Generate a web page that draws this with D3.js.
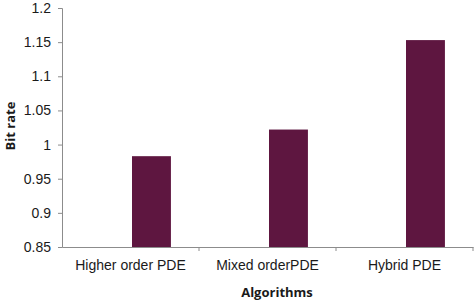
<!DOCTYPE html>
<html>
<head>
<meta charset="utf-8">
<script src="https://cdn.jsdelivr.net/npm/d3@7.9.0/dist/d3.min.js"></script>
<style>
  body { margin: 0; background: #fff; }
  svg { display: block; font-family: "Open Sans", sans-serif; }
</style>
</head>
<body>
<svg id="chart" width="474" height="300"></svg>
<script>
// data
const algorithms = ['Higher order PDE', 'Mixed orderPDE', 'Hybrid PDE'];
const bitRate = [0.983, 1.022, 1.153];
const yTicks = [0.85, 0.9, 0.95, 1, 1.05, 1.1, 1.15, 1.2];
const series = ['blank', 'Bit rate']; // first series is empty, bars sit right of centre

const margin = { top: 8, right: 1, bottom: 53, left: 62 };
const width = 474 - margin.left - margin.right;
const height = 300 - margin.top - margin.bottom;

const svg = d3.select('#chart');
const g = svg.append('g').attr('transform', `translate(${margin.left},${margin.top})`);

let x0 = d3.scaleBand().domain(algorithms).range([0, width]).padding(0);
let x1 = d3.scaleBand().domain(series).range([0, x0.bandwidth()])
  .paddingInner(0).paddingOuter(0.76);
let y = d3.scaleLinear().domain([0.85, 1.2]).range([height, 0]);

// bars
g.selectAll('rect.bar')
  .data(bitRate)
  .enter()
  .append('rect')
  .attr('class', 'bar')
  .attr('x', (d, i) => x0(algorithms[i]) + x1('Bit rate') + 1.5)
  .attr('y', d => y(d))
  .attr('width', x1.bandwidth())
  .attr('height', d => height - y(d))
  .attr('fill', '#5e1640');

// y axis
let yAxis = g.append('g')
  .call(d3.axisLeft(y).tickValues(yTicks).tickSize(4).tickPadding(7).tickFormat(d3.format('')));
yAxis.select('.domain').attr('stroke', '#8c8c8c');
yAxis.selectAll('.tick line').attr('stroke', '#8c8c8c');
yAxis.selectAll('text').attr('fill', '#1a1a1a').style('font-size', '14px');

// x axis: ticks at category boundaries, labels at centres
let xAxis = g.append('g').attr('transform', `translate(0,${height})`)
  .call(d3.axisBottom(x0).tickSize(0).tickPadding(13));
xAxis.select('.domain').attr('stroke', '#8c8c8c');
xAxis.selectAll('text').attr('fill', '#1a1a1a').style('font-size', '14px');

xAxis.selectAll('line.sep')
  .data(algorithms.slice(1).concat(['end']))
  .enter()
  .append('line')
  .attr('class', 'sep')
  .attr('x1', (d, i) => x0.step() * (i + 1))
  .attr('x2', (d, i) => x0.step() * (i + 1))
  .attr('y1', 0)
  .attr('y2', 4)
  .attr('stroke', '#8c8c8c');

// titles
svg.append('text')
  .attr('x', 277)
  .attr('y', 297)
  .attr('text-anchor', 'middle')
  .style('font-size', '13px')
  .style('font-weight', 'bold')
  .attr('fill', '#1a1a1a')
  .text('Algorithms');

svg.append('text')
  .attr('transform', 'translate(15,126) rotate(-90)')
  .attr('text-anchor', 'middle')
  .style('font-size', '13px')
  .style('font-weight', 'bold')
  .attr('fill', '#1a1a1a')
  .text('Bit rate');
</script>
</body>
</html>
